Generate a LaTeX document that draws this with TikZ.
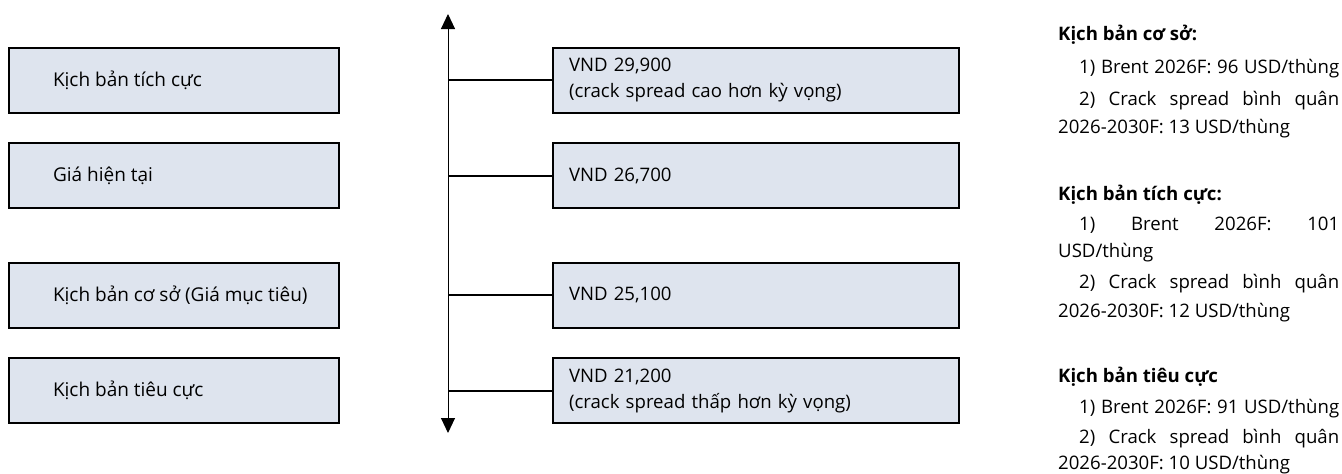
\documentclass[tikz,border=0pt]{standalone}
\usepackage{fontspec}
\setmainfont{Open Sans}
\usetikzlibrary{arrows.meta}
\definecolor{boxfill}{RGB}{222,228,238}
\newcommand{\boxfont}{\fontsize{19}{26}\selectfont}
\newcommand{\notefont}{\fontsize{18.6}{26}\selectfont}
\tikzset{
  box/.style={draw=black, line width=2pt, fill=boxfill, minimum height=65pt, anchor=west, align=left, inner ysep=0pt},
  leftbox/.style={box, font=\boxfont, minimum width=330pt, inner xsep=44pt},
  rightbox/.style={box, font=\notefont, text width=374pt, inner xsep=16pt},
  conn/.style={draw=black, line width=2pt},
  axis/.style={draw=black, line width=1pt, {Triangle[width=14pt,length=15pt]}-{Triangle[width=14pt,length=15pt]}},
  note/.style={anchor=base west, inner sep=0pt, font=\notefont},
}
\newcommand{\lt}[1]{\makebox[242pt][l]{#1}}
\newcommand{\jl}[1]{\makebox[260pt][s]{#1}}
\begin{document}
\begin{tikzpicture}[x=1pt, y=-1pt]
\useasboundingbox (0,0) rectangle (1342,474);
% left boxes
\node[leftbox] (l1) at (8,80) {\lt{Kịch bản tích cực}};
\node[leftbox] (l2) at (8,175.5) {\lt{Giá hiện tại}};
\node[leftbox] (l3) at (8,295) {\lt{Kịch bản cơ sở (Giá mục tiêu)}};
\node[leftbox] (l4) at (8,390.5) {\lt{Kịch bản tiêu cực}};
% axis
\coordinate (top) at (448,14);
\coordinate (bot) at (448,433);
\draw[axis] (bot) -- (top);
% right boxes
\node[rightbox] (r1) at (552,80) {VND 29,900\\(crack spread cao hơn kỳ vọng)};
\node[rightbox] (r2) at (552,175.5) {VND 26,700};
\node[rightbox] (r3) at (552,295) {VND 25,100};
\node[rightbox] (r4) at (552,390.5) {VND 21,200\\(crack spread thấp hơn kỳ vọng)};
% connectors
\coordinate (a1) at (448,80);
\coordinate (a2) at (448,175.5);
\coordinate (a3) at (448,295);
\coordinate (a4) at (448,390.5);
\draw[conn] (a1) -- (r1.west);
\draw[conn] (a2) -- (r2.west);
\draw[conn] (a3) -- (r3.west);
\draw[conn] (a4) -- (r4.west);
% notes
\node[note] (n1) at (1058,40) {\bfseries Kịch bản cơ sở:};
\node[note] (n2) at (1079,73) {\jl{1) Brent 2026F: 96 USD/thùng}};
\node[note] (n3) at (1079,105) {\jl{2) Crack spread bình quân}};
\node[note] (n4) at (1058,133) {2026-2030F: 13 USD/thùng};
\node[note] (n5) at (1058,200) {\bfseries Kịch bản tích cực:};
\node[note] (n6) at (1079,230) {\jl{1) Brent 2026F: 101}};
\node[note] (n7) at (1058,257) {USD/thùng};
\node[note] (n8) at (1079,288) {\jl{2) Crack spread bình quân}};
\node[note] (n9) at (1058,317) {2026-2030F: 12 USD/thùng};
\node[note] (n10) at (1058,382) {\bfseries Kịch bản tiêu cực};
\node[note] (n11) at (1079,413) {\jl{1) Brent 2026F: 91 USD/thùng}};
\node[note] (n12) at (1079,443) {\jl{2) Crack spread bình quân}};
\node[note] (n13) at (1058,469) {2026-2030F: 10 USD/thùng};
\end{tikzpicture}
\end{document}
